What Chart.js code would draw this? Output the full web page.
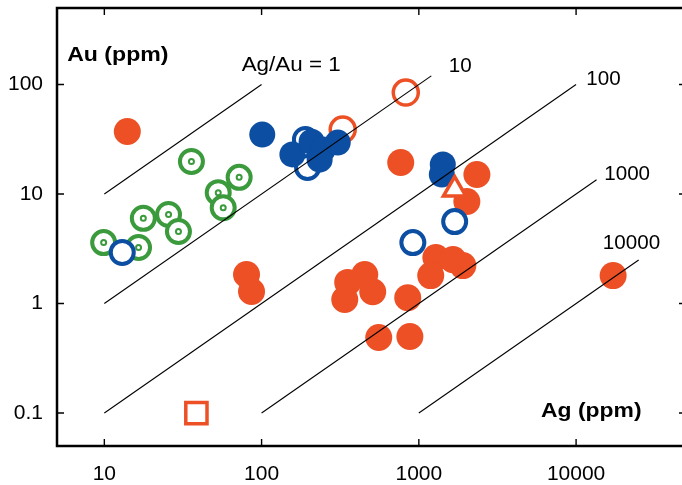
<!DOCTYPE html>
<html>
<head>
<meta charset="utf-8">
<script src="https://cdn.jsdelivr.net/npm/chart.js@4.4.1/dist/chart.umd.min.js"></script>
<style>
    html, body { margin: 0; padding: 0; background: #fff; overflow: hidden; }
    #wrap { position: absolute; left: 0; top: 0; width: 690px; height: 485px; }
</style>
</head>
<body>
<div id="wrap"><canvas id="chart"></canvas></div>
<script>
// --- Data (Ag ppm, Au ppm) ---
const xTicks = [10, 100, 1000, 10000];
const yTicks = [0.1, 1, 10, 100];

const greenAg = [35.8, 72, 53, 57, 17.7, 25.6, 29.6, 9.9, 16.5];
const greenAu = [19.8, 14.2, 10.3, 7.5, 6.0, 6.5, 4.55, 3.6, 3.25];

const blueOpenAg = [13.0, 190, 196, 1690, 916];
const blueOpenAu = [2.93, 31.5, 17.5, 5.6, 3.6];

const blueFilledAg = [101, 157, 208, 245, 234, 305, 1420, 1400];
const blueFilledAu = [34.9, 23, 30, 25.5, 20.6, 29.5, 18.6, 15.1];

const orangeOpenAg = [328, 826];
const orangeOpenAu = [38.8, 84.5];

const orangeFilledAg = [14.0, 767, 2340, 2020, 1283, 1650, 1905, 1190, 850, 509, 556, 877, 17200, 80.2, 86.3, 353, 453, 338];
const orangeFilledAu = [37.3, 19.4, 15.1, 8.55, 2.63, 2.52, 2.22, 1.80, 1.13, 1.28, 0.49, 0.50, 1.80, 1.84, 1.29, 1.56, 1.84, 1.09];

const triangleAg = [1690];
const triangleAu = [11.0];

const squareAg = [38.5];
const squareAu = [0.10];

// Ag/Au reference lines
const ratioLabels = ['Ag/Au = 1', '10', '100', '1000', '10000'];
const ratioAg = [[10, 100], [10, 1200], [10, 10000], [100, 13500], [1000, 25000]];
const ratioAu = [[10, 100], [1, 120], [0.1, 100], [0.1, 13.5], [0.1, 2.5]];
// where each ratio label sits (data coords, left edge / middle)
const ratioLabelAg = [74.7, 1550, 11600, 15100, 14800];
const ratioLabelAu = [150, 145, 112, 15, 3.5];

const orange = '#ec5024';
const blue = '#0b4ea2';
const green = '#3a9a3c';
const fontFamily = '"Liberation Sans", Arial, Helvetica, sans-serif';

function points(xs, ys) {
    return xs.map(function (v, i) { return { x: v, y: ys[i] }; });
}

// --- Datasets (first in list is drawn on top) ---
const lineSets = ratioAg.map(function (xs, i) {
    return {
        label: 'Ag/Au ' + ratioLabels[i],
        data: points(xs, ratioAu[i]),
        showLine: true,
        borderColor: '#000',
        borderWidth: 1.1,
        pointRadius: 0,
        fill: false
    };
});

const markerSets = [
    { label: 'square', data: points(squareAg, squareAu), pointStyle: 'rect', pointRadius: 15, borderWidth: 3.5, borderColor: orange, backgroundColor: '#fff' },
    { label: 'triangle', data: points(triangleAg, triangleAu), pointStyle: 'triangle', pointRadius: 13, borderWidth: 3.5, borderColor: orange, backgroundColor: '#fff' },
    { label: 'blue filled', data: points(blueFilledAg, blueFilledAu), pointRadius: 13, borderWidth: 0, backgroundColor: blue, borderColor: blue },
    { label: 'orange open', data: points(orangeOpenAg, orangeOpenAu), pointRadius: 12.5, borderWidth: 3.5, borderColor: orange, backgroundColor: '#fff' },
    { label: 'blue open', data: points(blueOpenAg, blueOpenAu), pointRadius: 11.5, borderWidth: 4, borderColor: blue, backgroundColor: '#fff' },
    { label: 'orange filled', data: points(orangeFilledAg, orangeFilledAu), pointRadius: 13.5, borderWidth: 0, backgroundColor: orange, borderColor: orange },
    { label: 'green dot', data: points(greenAg, greenAu), pointRadius: 2.5, borderWidth: 2, borderColor: green, backgroundColor: '#fff' },
    { label: 'green ring', data: points(greenAg, greenAu), pointRadius: 11.5, borderWidth: 4, borderColor: green, backgroundColor: '#fff' }
];

// text drawn a little wider than the font, like the original figure
function wideText(c, text, x, y, stretch) {
    c.save();
    c.translate(x, y);
    c.scale(stretch, 1);
    c.fillText(text, 0, 0);
    c.restore();
}

// --- Frame, inward ticks and text labels ---
const framePlugin = {
    id: 'frame',
    afterDraw: function (chart) {
        const c = chart.ctx;
        const a = chart.chartArea;
        const xs = chart.scales.x;
        const ys = chart.scales.y;
        c.save();
        c.strokeStyle = '#000';
        c.lineWidth = 2.5;
        c.strokeRect(a.left, a.top, a.right - a.left, a.bottom - a.top);

        c.lineWidth = 1.4;
        c.beginPath();
        xTicks.forEach(function (v) {
            const px = xs.getPixelForValue(v);
            c.moveTo(px, a.bottom); c.lineTo(px, a.bottom - 7);
            c.moveTo(px, a.top); c.lineTo(px, a.top + 7);
        });
        yTicks.forEach(function (v) {
            const py = ys.getPixelForValue(v);
            c.moveTo(a.left, py); c.lineTo(a.left + 7, py);
            c.moveTo(a.right, py); c.lineTo(a.right - 7, py);
        });
        c.stroke();

        c.fillStyle = '#000';
        c.textAlign = 'left';
        c.textBaseline = 'middle';
        c.font = '20px ' + fontFamily;
        ratioLabels.forEach(function (t, i) {
            const stretch = i === 0 ? 1.12 : 1.03;
            wideText(c, t, xs.getPixelForValue(ratioLabelAg[i]), ys.getPixelForValue(ratioLabelAu[i]), stretch);
        });

        c.font = 'bold 21px ' + fontFamily;
        wideText(c, 'Au (ppm)', xs.getPixelForValue(5.8), ys.getPixelForValue(185), 1.1);
        wideText(c, 'Ag (ppm)', xs.getPixelForValue(5990), ys.getPixelForValue(0.105), 1.09);
        c.restore();
    }
};

function noPadding(scale) {
    scale.paddingTop = 0;
    scale.paddingBottom = 0;
    scale.paddingLeft = 0;
    scale.paddingRight = 0;
}

new Chart(document.getElementById('chart'), {
    type: 'scatter',
    data: { datasets: lineSets.concat(markerSets) },
    options: {
        responsive: true,
        maintainAspectRatio: false,
        animation: false,
        events: [],
        layout: { autoPadding: false, padding: { top: 8, right: 4, left: 0, bottom: 0 } },
        plugins: { legend: { display: false }, tooltip: { enabled: false } },
        elements: { point: { pointStyle: 'circle', hoverRadius: 0 } },
        scales: {
            x: {
                type: 'logarithmic',
                min: 5,
                max: 50000,
                grid: { display: false, drawTicks: false },
                border: { display: false },
                afterBuildTicks: function (scale) { scale.ticks = xTicks.map(function (v) { return { value: v }; }); },
                afterFit: function (scale) { scale.height = 39; noPadding(scale); },
                ticks: {
                    autoSkip: false,
                    maxRotation: 0,
                    padding: 16,
                    color: '#000',
                    font: { family: fontFamily, size: 21 },
                    callback: function (v) { return String(v); }
                }
            },
            y: {
                type: 'logarithmic',
                min: 0.05,
                max: 500,
                grid: { display: false, drawTicks: false },
                border: { display: false },
                afterBuildTicks: function (scale) { scale.ticks = yTicks.map(function (v) { return { value: v }; }); },
                afterFit: function (scale) { scale.width = 57; noPadding(scale); },
                ticks: {
                    autoSkip: false,
                    padding: 14,
                    color: '#000',
                    font: { family: fontFamily, size: 21 },
                    callback: function (v) { return String(v); }
                }
            }
        }
    },
    plugins: [framePlugin]
});
</script>
</body>
</html>
